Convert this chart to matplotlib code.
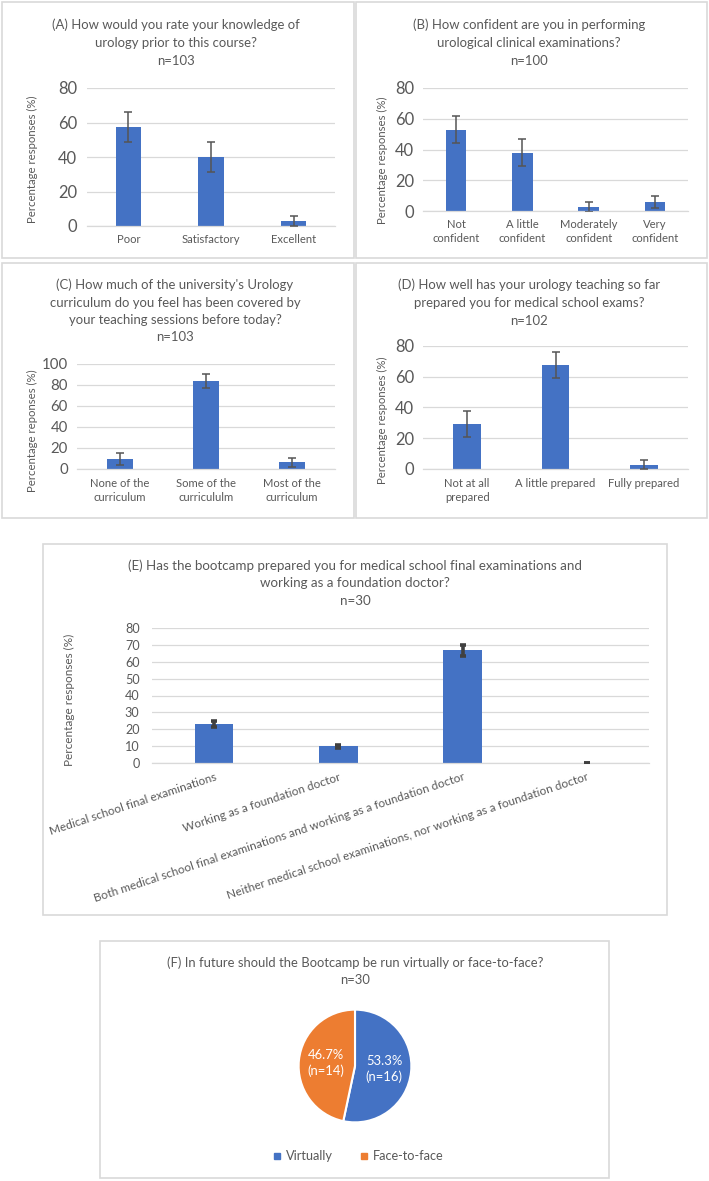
import matplotlib
matplotlib.use('Agg')
import matplotlib.pyplot as plt
from matplotlib.patches import Rectangle
from matplotlib.lines import Line2D
import numpy as np

W, H = 709, 1181
plt.rcParams['font.family'] = ['Lato', 'DejaVu Sans']

BLUE = '#4472C4'
ORANGE = '#ED7D31'
TXT = '#595959'
GRID = '#D9D9D9'

# ---------------- data ----------------
a_title = ["(A) How would you rate your knowledge of", "urology prior to this course?", "n=103"]
a_cats = ['Poor', 'Satisfactory', 'Excellent']
a_vals = [57.3, 39.8, 2.9]
a_err = [8.7, 8.7, 3.1]

b_title = ["(B) How confident are you in performing", "urological clinical examinations?", "n=100"]
b_cats = ['Not\nconfident', 'A little\nconfident', 'Moderately\nconfident', 'Very\nconfident']
b_vals = [53.0, 38.0, 2.8, 5.9]
b_err = [8.7, 8.7, 3.3, 4.0]

c_title = ["(C) How much of the university's Urology", "curriculum do you feel has been covered by",
           "your teaching sessions before today?", "n=103"]
c_cats = ['None of the\ncurriculum', 'Some of the\ncurricululm', 'Most of the\ncurriculum']
c_vals = [9.7, 84.0, 6.3]
c_err = [5.6, 6.8, 4.4]

d_title = ["(D) How well has your urology teaching so far", "prepared you for medical school exams?", "n=102"]
d_cats = ['Not at all\nprepared', 'A little prepared', 'Fully prepared']
d_vals = [29.4, 67.6, 2.9]
d_err = [8.3, 8.6, 2.9]

e_title = ["(E) Has the bootcamp prepared you for medical school final examinations and",
           "working as a foundation doctor?", "n=30"]
e_cats = ['Medical school final examinations', 'Working as a foundation doctor',
          'Both medical school final examinations and working as a foundation doctor',
          'Neither medical school examinations, nor working as a foundation doctor']
e_vals = [23.3, 10.0, 66.7, 0.0]
e_err = [1.7, 0.9, 3.3, 0.0]

f_title = ["(F) In future should the Bootcamp be run virtually or face-to-face?", "n=30"]
f_labels = ['Virtually', 'Face-to-face']
f_counts = [16, 14]

# ---------------- helpers ----------------
fig = plt.figure(figsize=(W / 100, H / 100), dpi=100)
renderer = fig.canvas.get_renderer()


def fit_size(s, target_px, base=10.0):
    t = fig.text(0, 0, s, fontsize=base)
    w = t.get_window_extent(renderer).width
    t.remove()
    return base * target_px / w


FS_TITLE = fit_size(a_title[0], 250)
FS_CAT = fit_size('Satisfactory', 59)
FS_YLAB = fit_size('Percentage responses (%)', 128)
FS_TICK = fit_size('80', 19)
FS_TICK_C = fit_size('100', 26)
FS_E_TITLE = fit_size(e_title[0], 452)
FS_E_CAT = fit_size(e_cats[0], 174)
FS_E_TICK = fit_size('80', 14.5)
FS_E_YLAB = fit_size('Percentage responses (%)', 132)
FS_F_TITLE = fit_size(f_title[0], 378)
FS_LEG = fit_size('Face-to-face', 71)
FS_PIE = fit_size('53.3%', 36)


def rect(x0, y0, x1, y1):
    return [x0 / W, 1 - y1 / H, (x1 - x0) / W, (y1 - y0) / H]


def box(x0, y0, x1, y1):
    fig.add_artist(Rectangle((x0 / W, 1 - y1 / H), (x1 - x0) / W, (y1 - y0) / H,
                             transform=fig.transFigure, fill=False, ec=GRID, lw=1.2))


def ftext(x, y, s, **kw):
    kw.setdefault('ha', 'center')
    kw.setdefault('va', 'center')
    kw.setdefault('color', TXT)
    return fig.text(x / W, 1 - y / H, s, **kw)


def title(xc, ys, lines, fs):
    for y, s in zip(ys, lines):
        ftext(xc, y, s, fontsize=fs)


def bar_panel(pos, cats, vals, errs, ymax, step, tick_fs, cat_fs, ylabel, yl_x, yl_y,
              tick_pad, cat_pad, yl_fs, heavy=False):
    ax = fig.add_axes(rect(*pos))
    x = np.arange(len(cats))
    ax.bar(x, vals, width=0.31, color=BLUE, zorder=2)
    if heavy:
        ax.errorbar(x, vals, yerr=errs, fmt='none', ecolor='#404040', elinewidth=2.6,
                    capsize=2.5, capthick=2.6, zorder=3)
    else:
        ax.errorbar(x, vals, yerr=errs, fmt='none', ecolor='#555555', elinewidth=1.1,
                    capsize=3, capthick=1.1, zorder=3)
    ax.set_xlim(-0.5, len(cats) - 0.5)
    ax.set_ylim(0, ymax)
    ax.set_yticks(np.arange(0, ymax + 1, step))
    ax.yaxis.grid(True, color=GRID, lw=0.9)
    ax.set_axisbelow(True)
    for s in ['top', 'right', 'left']:
        ax.spines[s].set_visible(False)
    ax.spines['bottom'].set_color(GRID)
    ax.spines['bottom'].set_linewidth(0.9)
    ax.tick_params(axis='both', length=0, colors=TXT)
    ax.tick_params(axis='y', labelsize=tick_fs, pad=tick_pad)
    ax.tick_params(axis='x', pad=cat_pad)
    ax.set_xticks(x)
    ax.set_xticklabels(cats, fontsize=cat_fs, linespacing=1.3)
    ftext(yl_x, yl_y, ylabel, rotation=90, fontsize=yl_fs)
    return ax


# ---------------- panel boxes ----------------
box(2, 2, 354, 258)
box(356, 2, 707, 258)
box(2, 263, 354, 518)
box(356, 263, 707, 518)
box(43, 544, 667, 915)
box(100, 941, 609, 1178)

# ---------------- A ----------------
title(176, [25, 43, 61], a_title, FS_TITLE)
bar_panel((87, 88, 335, 226), a_cats, a_vals, a_err, 80, 20, FS_TICK, FS_CAT,
          'Percentage responses (%)', 32, 159, 7, 6, FS_YLAB)

# ---------------- B ----------------
title(529, [25, 43, 61], b_title, FS_TITLE)
bar_panel((423, 88, 688, 211), b_cats, b_vals, b_err, 80, 20, FS_TICK, FS_CAT,
          'Percentage responses (%)', 382, 160, 6.5, 6, FS_YLAB)

# ---------------- C ----------------
title(175, [285, 303, 320, 337], c_title, FS_TITLE)
bar_panel((77, 364, 335, 469), c_cats, c_vals, c_err, 100, 20, FS_TICK_C, FS_CAT,
          'Percentage reponses (%)', 32, 431, 6.5, 6.5, FS_YLAB)

# ---------------- D ----------------
title(529, [285, 303, 321], d_title, FS_TITLE)
bar_panel((423, 346, 688, 469), d_cats, d_vals, d_err, 80, 20, FS_TICK, FS_CAT,
          'Percentage responses (%)', 382, 420, 6.5, 6.5, FS_YLAB)

# ---------------- E ----------------
title(355, [566, 583, 601], e_title, FS_E_TITLE)
axE = bar_panel((152, 628, 649, 763), e_cats, e_vals, e_err, 80, 10, FS_E_TICK, FS_E_CAT,
                'Percentage responses (%)', 69, 700, 9, 6, FS_E_YLAB, heavy=True)
axE.set_xticklabels(e_cats, fontsize=FS_E_CAT, rotation=18.3, ha='right', rotation_mode='anchor')

# ---------------- F ----------------
title(355, [963, 980], f_title, FS_F_TITLE)
axF = fig.add_axes(rect(297.5, 1008.5, 412.5, 1123.5))
total = sum(f_counts)
wedges, _, autotexts = axF.pie(
    f_counts, colors=[BLUE, ORANGE], startangle=90, counterclock=False,
    wedgeprops=dict(edgecolor='white', linewidth=1.5),
    autopct=lambda p: f"{p:.1f}%\n(n={int(round(p * total / 100))})",
    pctdistance=0.52, textprops=dict(color='white', fontsize=FS_PIE, linespacing=1.3))
axF.set_xlim(-1.02, 1.02)
axF.set_ylim(-1.02, 1.02)
axF.set_aspect('equal')
axF.axis('off')

handles = [Line2D([], [], marker='s', linestyle='none', markersize=4.5, color=c)
           for c in [BLUE, ORANGE]]
fig.legend(handles, f_labels, loc='center', bbox_to_anchor=(357 / W, 1 - 1156 / H),
           ncol=2, frameon=False, fontsize=FS_LEG, handletextpad=0.2, columnspacing=2.0,
           labelcolor=TXT, handlelength=1.0)

fig.savefig('out.png', dpi=100, facecolor='white')
